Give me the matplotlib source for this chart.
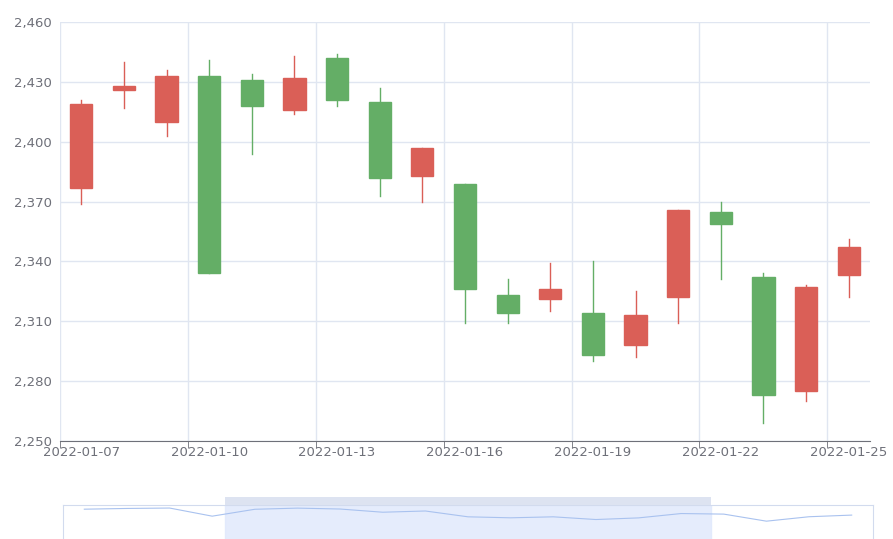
import matplotlib
matplotlib.use("Agg")
import matplotlib.pyplot as plt
from matplotlib.patches import Rectangle

dates = ["2022-01-%02d" % d for d in range(7, 26)]
opens  = [2377, 2426, 2410, 2433, 2431, 2416, 2442, 2420, 2383, 2379, 2323, 2321, 2314, 2298, 2322, 2365, 2332, 2275, 2333]
closes = [2419, 2428, 2433, 2334, 2418, 2432, 2421, 2382, 2397, 2326, 2314, 2326, 2293, 2313, 2366, 2359, 2273, 2327, 2347]
lows   = [2369, 2417, 2403, 2334, 2394, 2414, 2418, 2373, 2370, 2309, 2309, 2315, 2290, 2292, 2309, 2331, 2259, 2270, 2322]
highs  = [2421, 2440, 2436, 2441, 2434, 2443, 2444, 2427, 2397, 2379, 2331, 2339, 2340, 2325, 2366, 2370, 2334, 2328, 2351]

W, H = 893, 539
fig = plt.figure(figsize=(W/100, H/100), dpi=100)
ax = fig.add_axes([60/W, 1-441/H, 810/W, 419/H])
up, down = "#da5f57", "#64ae66"
for i, (o, c, l, h) in enumerate(zip(opens, closes, lows, highs)):
    col = up if c >= o else down
    ax.plot([i, i], [l, h], color=col, lw=1, zorder=2)
    ax.add_patch(Rectangle((i-0.26, min(o, c)), 0.52, max(abs(c-o), 0.5), color=col, zorder=3))
ax.set_xlim(-0.5, len(dates)-0.5)
ax.set_ylim(2250, 2460)
ax.set_yticks(range(2250, 2461, 30))
ax.set_yticklabels([f"{v:,}" for v in range(2250, 2461, 30)])
ax.set_xticks(range(0, len(dates), 3))
ax.set_xticklabels(dates[::3])
ax.set_xticks([x - 0.5 for x in range(0, len(dates)+1, 3)], minor=True)
ax.grid(True, which="minor", axis="x", color="#e0e6f1", lw=1)
ax.grid(True, which="major", axis="y", color="#e0e6f1", lw=1)
ax.tick_params(which="major", axis="x", length=0, labelcolor="#6e7079", labelsize=9.5)
ax.tick_params(which="minor", axis="x", length=5, color="#6e7079")
ax.tick_params(axis="y", length=0, labelcolor="#6e7079", labelsize=9.5, pad=6)
for s in ["top", "right", "left"]:
    ax.spines[s].set_visible(False)
ax.spines["bottom"].set_color("#6e7079")
ax.set_axisbelow(True)

# data zoom slider
sl = fig.add_axes([63/W, 1-560/H, 810/W, 55/H])
sl.set_xlim(-0.5, len(dates)-0.5)
sl.set_ylim(1800, 2470)
sl.plot(range(len(dates)), closes, color="#a9c2ef", lw=0.8)
x0 = -0.5 + (225-63)/810*19
x1 = -0.5 + (711-63)/810*19
sl.axvspan(x0, x1, color="#dfe8fc", alpha=0.8, zorder=0)
for s in sl.spines.values():
    s.set_color("#d2dbee")
sl.set_xticks([]); sl.set_yticks([])
bar = fig.add_axes([225/W, 1-505/H, (711-225)/W, 8/H])
bar.set_facecolor("#dde3f1")
for s in bar.spines.values():
    s.set_visible(False)
bar.set_xticks([]); bar.set_yticks([])
fig.savefig("out.png", dpi=100)
